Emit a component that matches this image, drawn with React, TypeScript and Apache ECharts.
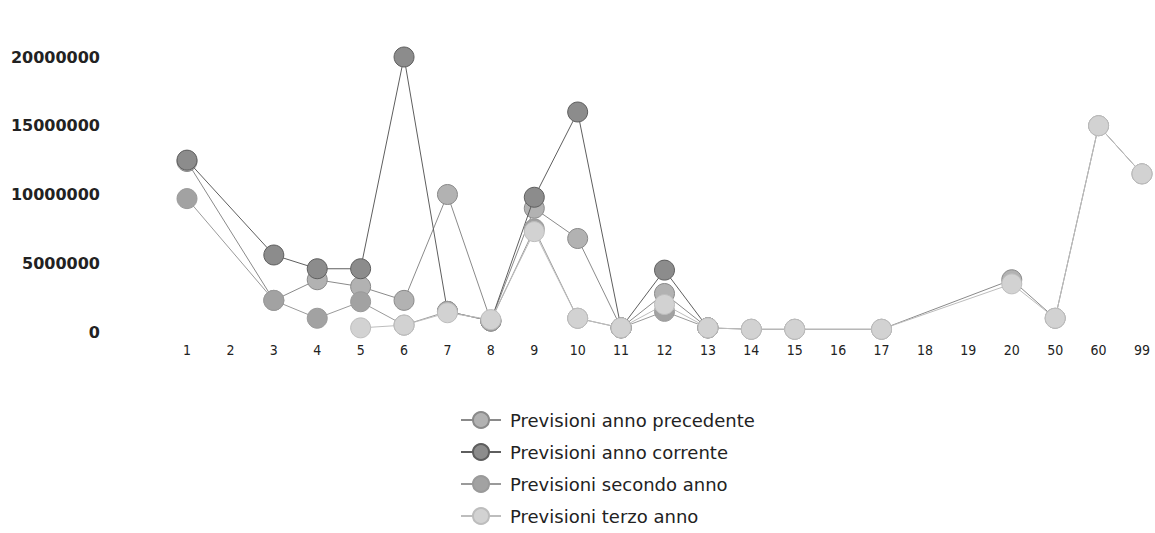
import React, { useEffect, useRef } from "react";
import * as echarts from "echarts";

const categories = ["1","2","3","4","5","6","7","8","9","10","11","12","13","14","15","16","17","18","19","20","50","60","99"];

const seriesNames = [
  "Previsioni anno precedente",
  "Previsioni anno corrente",
  "Previsioni secondo anno",
  "Previsioni terzo anno",
];

const annoPrecedente = [12400000, null, 2300000, 3800000, 3300000, 2300000, 10000000, 800000, 9000000, 6800000, 300000, 2800000, 300000, 200000, 200000, null, 200000, null, null, 3800000, 1000000, 15000000, 11500000];
const annoCorrente = [12500000, null, 5600000, 4600000, 4600000, 20000000, 1500000, 800000, 9800000, 16000000, 300000, 4500000, 300000, null, null, null, null, null, null, null, null, null, null];
const secondoAnno = [9700000, null, 2300000, 1000000, 2200000, 500000, 1500000, 800000, 7500000, 1000000, 300000, 1500000, 300000, null, null, null, null, null, null, null, null, null, null];
const terzoAnno = [null, null, null, null, 300000, 500000, 1400000, 900000, 7300000, 1000000, 300000, 2000000, 300000, 200000, 200000, null, 200000, null, null, 3500000, 1000000, 15000000, 11500000];

const yTicks = [0, 5000000, 10000000, 15000000, 20000000];

const markerColors = ["#b2b2b2", "#8c8c8c", "#a2a2a2", "#d2d2d2"];
const lineColors = ["#8a8a8a", "#5e5e5e", "#9a9a9a", "#bdbdbd"];

export default function App() {
  const ref = useRef<HTMLDivElement>(null);
  useEffect(() => {
    document.body.style.margin = "0";
    if (!ref.current) return;
    const chart = echarts.init(ref.current, undefined, { renderer: "svg" });
    const datasets = [annoPrecedente, annoCorrente, secondoAnno, terzoAnno];
    chart.setOption({
      animation: false,
      backgroundColor: "#ffffff",
      grid: { left: 187, right: 13, top: 57, bottom: 201, containLabel: false },
      xAxis: {
        type: "category",
        data: categories,
        boundaryGap: false,
        axisLine: { show: false },
        axisTick: { show: false },
        splitLine: { show: false },
        axisLabel: {
          margin: 11,
          color: "#222",
          fontSize: 14,
          fontFamily: "DejaVu Sans Condensed, DejaVu Sans, sans-serif",
        },
      },
      yAxis: {
        type: "value",
        min: yTicks[0],
        max: yTicks[yTicks.length - 1],
        interval: 5000000,
        axisLine: { show: false },
        axisTick: { show: false },
        splitLine: { show: false },
        axisLabel: {
          margin: 87,
          color: "#222",
          fontSize: 16,
          fontWeight: "bold",
          fontFamily: "DejaVu Sans, sans-serif",
          formatter: (v: number) => String(v),
        },
      },
      legend: {
        orient: "vertical",
        left: 460,
        top: 410,
        height: 120,
        padding: 0,
        itemWidth: 40,
        itemHeight: 20,
        itemGap: 12,
        textStyle: {
          fontSize: 18,
          lineHeight: 20,
          color: "#222",
          fontFamily: "DejaVu Sans, sans-serif",
          padding: [0, 0, 0, 4],
        },
        data: seriesNames,
      },
      series: datasets.map((d, i) => ({
        name: seriesNames[i],
        type: "line",
        data: d,
        connectNulls: true,
        symbol: "circle",
        symbolSize: 20,
        itemStyle: { color: markerColors[i], borderColor: lineColors[i], borderWidth: 1 },
        lineStyle: { color: lineColors[i], width: 1 },
        z: 2 + i,
      })),
    });
    return () => chart.dispose();
  }, []);
  return <div ref={ref} style={{ width: 1155, height: 533 }} />;
}
